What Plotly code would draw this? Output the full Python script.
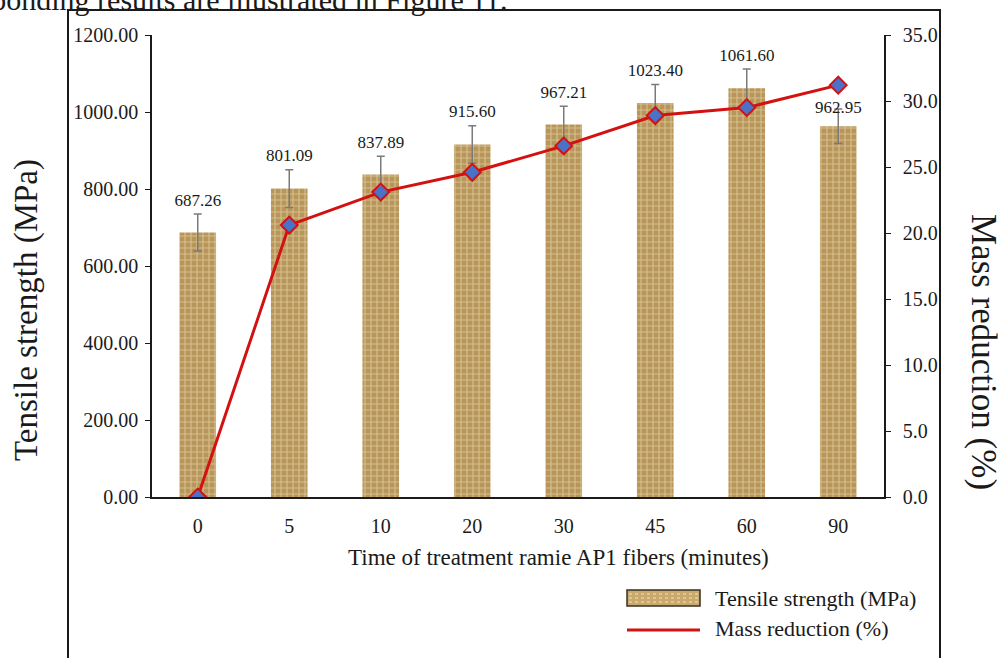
import plotly.graph_objects as go

categories = ["0", "5", "10", "20", "30", "45", "60", "90"]
tensile = [687.26, 801.09, 837.89, 915.60, 967.21, 1023.40, 1061.60, 962.95]
tensile_err = [48, 49, 47, 49, 48, 48, 50, 45]
tensile_labels = ["687.26", "801.09", "837.89", "915.60", "967.21", "1023.40", "1061.60", "962.95"]
mass_reduction = [0.0, 20.6, 23.1, 24.6, 26.6, 28.9, 29.5, 31.2]

left_ticks = [0, 200, 400, 600, 800, 1000, 1200]
left_ticktext = ["0.00", "200.00", "400.00", "600.00", "800.00", "1000.00", "1200.00"]
right_ticks = [0, 5, 10, 15, 20, 25, 30, 35]
right_ticktext = ["0.0", "5.0", "10.0", "15.0", "20.0", "25.0", "30.0", "35.0"]

FONT = "Liberation Serif, Times New Roman, serif"
INK = "#1a1a1a"
RED = "#d41111"
W, H = 1002, 658
L, R, T, B = 152, 884, 35, 497


def px(x):
    return (x - L) / (R - L)


def py(y):
    return (B - y) / (B - T)


fig = go.Figure()

fig.add_trace(go.Bar(
    x=categories, y=tensile, name="Tensile strength (MPa)",
    width=0.4, showlegend=False,
    marker=dict(color="#c2a266",
                pattern=dict(shape="+", fgcolor="#f1e5c0", bgcolor="#b8965a",
                             size=6, solidity=0.35),
                line=dict(width=0)),
    error_y=dict(type="data", array=tensile_err, visible=True,
                 color="#7a7a7a", thickness=1.5, width=4),
    yaxis="y",
))

label_pos = ["top center"] * (len(categories) - 1) + ["middle center"]
fig.add_trace(go.Scatter(
    x=categories, y=[v + e for v, e in zip(tensile, tensile_err)],
    mode="markers+text", text=tensile_labels, textposition=label_pos,
    marker=dict(size=5, opacity=0),
    textfont=dict(family=FONT, size=17, color=INK),
    showlegend=False, hoverinfo="skip", yaxis="y",
))

fig.add_trace(go.Scatter(
    x=categories, y=mass_reduction, name="Mass reduction (%)",
    mode="lines", line=dict(color=RED, width=3), showlegend=False,
    yaxis="y2",
))

fig.add_trace(go.Scatter(
    x=categories, y=mass_reduction, mode="markers", showlegend=False,
    marker=dict(symbol="diamond", size=13, color="#4a72c8",
                line=dict(color=RED, width=2)),
    yaxis="y2",
))

fig.update_layout(
    width=W, height=H,
    margin=dict(l=L, r=W - R, t=T, b=H - B),
    paper_bgcolor="white", plot_bgcolor="white",
    font=dict(family=FONT, size=20, color=INK),
    showlegend=False,
    xaxis=dict(type="category", showgrid=False, showline=True, linecolor=INK,
               linewidth=1.5, ticks="", tickfont=dict(size=20), zeroline=False,
               ticklabelstandoff=10),
    yaxis=dict(range=[0, 1200], tickvals=left_ticks, ticktext=left_ticktext,
               showgrid=False, showline=True, linecolor=INK, linewidth=1.5,
               ticks="outside", ticklen=5, tickcolor=INK, zeroline=False,
               tickfont=dict(size=20), ticklabelstandoff=3),
    yaxis2=dict(range=[0, 35], tickvals=right_ticks, ticktext=right_ticktext,
                overlaying="y", side="right", showgrid=False, showline=True,
                linecolor=INK, linewidth=1.5, ticks="outside", ticklen=5,
                tickcolor=INK, zeroline=False, tickfont=dict(size=20),
                ticklabelstandoff=8),
)

annotations = [
    dict(text="Time of treatment ramie AP1 fibers (minutes)", x=px(558), y=py(557),
         xref="paper", yref="paper", showarrow=False, font=dict(size=23),
         xanchor="center", yanchor="middle"),
    dict(text="Tensile strength (MPa)", x=px(26), y=py(310), xref="paper", yref="paper",
         showarrow=False, textangle=-90, font=dict(size=33),
         xanchor="center", yanchor="middle"),
    dict(text="Mass reduction (%)", x=px(984), y=py(352), xref="paper", yref="paper",
         showarrow=False, textangle=90, font=dict(size=35),
         xanchor="center", yanchor="middle"),
    dict(text="corresponding results are illustrated in Figure 11.", x=px(510), y=py(18),
         xref="paper", yref="paper", showarrow=False, font=dict(size=30),
         xanchor="right", yanchor="bottom"),
    dict(text="Tensile strength (MPa)", x=px(713), y=py(598), xref="paper", yref="paper",
         showarrow=False, font=dict(size=22), xanchor="left", yanchor="middle"),
    dict(text="Mass reduction (%)", x=px(713), y=py(628), xref="paper", yref="paper",
         showarrow=False, font=dict(size=22), xanchor="left", yanchor="middle"),
]
fig.update_layout(annotations=annotations)

shapes = [
    dict(type="rect", xref="paper", yref="paper",
         x0=px(68), x1=px(940), y0=py(690), y1=py(10),
         line=dict(color=INK, width=2), fillcolor="rgba(0,0,0,0)", layer="below"),
    dict(type="rect", xref="paper", yref="paper",
         x0=px(627), x1=px(700), y0=py(606), y1=py(590),
         line=dict(color="#3a3020", width=1.5), fillcolor="#c9aa6c"),
    dict(type="line", xref="paper", yref="paper",
         x0=px(627), x1=px(700), y0=py(630), y1=py(630),
         line=dict(color=RED, width=3)),
]
for i in range(3):
    yy = 594 + i * 4
    shapes.append(dict(type="line", xref="paper", yref="paper",
                       x0=px(629), x1=px(698), y0=py(yy), y1=py(yy),
                       line=dict(color="#f1e5c0", width=1, dash="dot")))
fig.update_layout(shapes=shapes)

fig.write_html("out.html")
